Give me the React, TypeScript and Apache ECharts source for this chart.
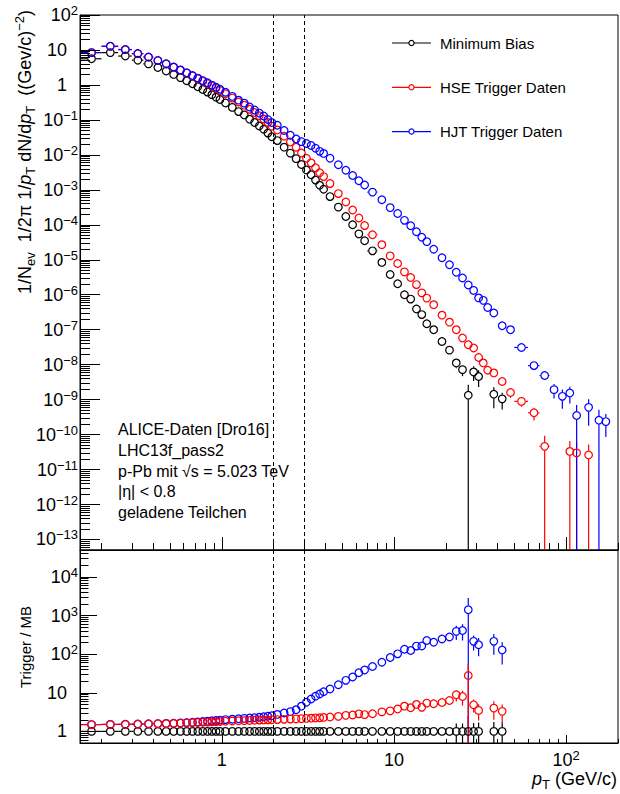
import React, { useEffect, useRef } from 'react';
import * as echarts from 'echarts';

const FONT = '"Liberation Sans", Arial, Helvetica, sans-serif';

// pT bin edges (GeV/c)
const ptEdges = [
  0.15, 0.2, 0.25, 0.3, 0.35, 0.4, 0.45, 0.5, 0.55, 0.6, 0.65, 0.7, 0.75, 0.8, 0.85, 0.9, 0.95, 1.0,
  1.1, 1.2, 1.3, 1.4, 1.5, 1.6, 1.7, 1.8, 1.9, 2.0,
  2.2, 2.4, 2.6, 2.8, 3.0, 3.2, 3.4, 3.6, 3.8, 4.0,
  4.5, 5.0, 5.5, 6.0, 6.5, 7.0,
  8, 9, 10, 11, 12, 13, 14, 15, 16,
  18, 20, 22, 24, 26, 28, 30, 32, 34, 36, 40, 45, 50,
  60, 70, 80, 90, 100, 110, 120, 130, 140, 150, 160, 180, 200,
];

// Spectra 1/Nev 1/2pi 1/pT dN/dpT per bin
const mbSpectrum = [
  5.6, 8.4, 6.7, 5.1, 4.0, 3.15, 2.5, 2.0, 1.62, 1.32, 1.08, 0.89, 0.74, 0.624, 0.527, 0.447, 0.382,
  0.305, 0.228, 0.173, 0.139, 0.105, 0.084, 0.067, 0.054, 0.042, 0.033,
  0.0256, 0.0166, 0.0112, 0.0078, 0.0053, 0.0037, 0.0027, 0.0019, 0.00136, 0.00104,
  6.4e-4, 3.2e-4, 1.73e-4, 1.0e-4, 5.5e-5, 3.5e-5,
  1.8e-5, 8.4e-6, 3.8e-6, 2.06e-6, 1.0e-6, 7.5e-7, 3.9e-7, 2.7e-7, 1.48e-7,
  1.0e-7, 4.6e-8, 2.6e-8, 1.12e-8, 7.2e-9, 1.33e-9, 6.2e-9, 4.6e-9,
  null, null, 1.42e-9, 1.05e-9,
  null, null, null, null, null, null, null, null, null, null, null, null, null, null,
];
const hseSpectrum = [
  8.4, 12.7, 10.2, 7.8, 6.2, 4.95, 3.98, 3.22, 2.64, 2.18, 1.8, 1.51, 1.27, 1.09, 0.93, 0.8, 0.69,
  0.56, 0.42, 0.325, 0.264, 0.202, 0.163, 0.131, 0.106, 0.084, 0.066,
  0.0517, 0.034, 0.0233, 0.0165, 0.0113, 0.008, 0.0059, 0.00426, 0.00307, 0.00239,
  1.51e-3, 7.8e-4, 4.5e-4, 2.65e-4, 1.57e-4, 9.5e-5,
  5.2e-5, 2.7e-5, 1.29e-5, 7.8e-6, 4.5e-6, 3.1e-6, 1.95e-6, 1.13e-6, 8.0e-7,
  5.2e-7, 2.6e-7, 1.64e-7, 1.0e-7, 5.8e-8, 3.7e-8, 3.0e-8, 1.6e-8,
  1.12e-8, 6.9e-9, 5.8e-9, 3.3e-9,
  1.6e-9, 8.9e-10, 4.2e-10, 4.6e-11, null, null, 3.3e-11, 3.0e-11, null, 2.6e-11, null, null, null, null,
];
const hjtSpectrum = [
  8.4, 12.8, 10.3, 7.9, 6.3, 5.0, 4.03, 3.26, 2.69, 2.23, 1.86, 1.57, 1.33, 1.15, 0.99, 0.86, 0.75,
  0.62, 0.47, 0.367, 0.302, 0.233, 0.191, 0.156, 0.129, 0.103, 0.084,
  0.0704, 0.0498, 0.0364, 0.0285, 0.0239, 0.0211, 0.0186, 0.0154, 0.0126, 0.011,
  0.008, 0.0052, 0.00363, 0.00257, 0.00182, 0.00137,
  8.6e-4, 5.2e-4, 3.1e-4, 2.1e-4, 1.34e-4, 9.4e-5, 6.3e-5, 4.4e-5, 3.3e-5,
  2.0e-5, 1.14e-5, 7.2e-6, 4.4e-6, 3.0e-6, 1.9e-6, 1.33e-6, 8.1e-7,
  6.9e-7, 4.3e-7, 3.0e-7, 1.3e-7,
  1.0e-7, 3.1e-8, 9.4e-9, 4.9e-9, 1.93e-9, 1.24e-9, 1.55e-9, 3.5e-10, null, 6.0e-10, null, 2.56e-10, 2.35e-10, null,
];

// Ratios Trigger / MB per bin
const mbRatio = [
  1, 1, 1, 1, 1, 1, 1, 1, 1, 1, 1, 1, 1, 1, 1, 1, 1,
  1, 1, 1, 1, 1, 1, 1, 1, 1, 1,
  1, 1, 1, 1, 1, 1, 1, 1, 1, 1,
  1, 1, 1, 1, 1, 1,
  1, 1, 1, 1, 1, 1, 1, 1, 1,
  1, 1, 1, 1, 1, 1, 1, 1,
  null, null, 1, 1,
  null, null, null, null, null, null, null, null, null, null, null, null, null, null,
];
const hseRatio = [
  1.5, 1.51, 1.52, 1.53, 1.55, 1.57, 1.59, 1.61, 1.63, 1.65, 1.67, 1.7, 1.72, 1.74, 1.76, 1.78, 1.8,
  1.83, 1.86, 1.88, 1.9, 1.92, 1.94, 1.96, 1.97, 1.99, 2.0,
  2.02, 2.05, 2.08, 2.11, 2.14, 2.17, 2.2, 2.24, 2.26, 2.3,
  2.36, 2.45, 2.6, 2.65, 2.85, 2.72,
  2.87, 3.2, 3.4, 3.8, 4.5, 4.1, 5.0, 4.2, 5.4,
  5.2, 5.6, 6.3, 8.9, 8.0, 28, 4.9, 3.5,
  null, null, 4.0, 3.3,
  null, null, null, null, null, null, null, null, null, null, null, null, null, null,
];
const hjtRatio = [
  1.5, 1.52, 1.53, 1.55, 1.57, 1.59, 1.61, 1.63, 1.66, 1.69, 1.72, 1.76, 1.8, 1.84, 1.88, 1.92, 1.96,
  2.02, 2.07, 2.12, 2.17, 2.22, 2.27, 2.33, 2.39, 2.46, 2.55,
  2.75, 3.0, 3.25, 3.65, 4.5, 5.7, 6.9, 8.1, 9.3, 10.6,
  12.5, 16.2, 21, 25.7, 33, 39,
  48, 62, 82, 102, 134, 125, 162, 163, 226,
  203, 247, 278, 390, 412, 1420, 215, 176,
  null, null, 215, 128,
  null, null, null, null, null, null, null, null, null, null, null, null, null, null,
];

// Relative statistical errors [bin index, relative error]
const mbSpecErr = [[52, 0.08], [53, 0.12], [54, 0.15], [55, 0.3], [56, 0.35], [57, 1.0], [58, 0.45], [59, 0.5], [62, 0.6], [63, 0.5]];
const hseSpecErr = [[54, 0.05], [55, 0.08], [56, 0.1], [57, 0.12], [58, 0.12], [59, 0.15], [60, 0.17], [61, 0.2], [62, 0.25], [63, 0.25], [64, 0.3], [65, 0.3], [66, 0.4], [67, 1.0], [70, 1.0], [71, 1.0], [73, 1.0]];
const hjtSpecErr = [[60, 0.06], [61, 0.08], [62, 0.1], [63, 0.1], [64, 0.12], [65, 0.15], [66, 0.22], [67, 0.25], [68, 0.44], [69, 0.56], [70, 0.5], [71, 1.0], [73, 0.7], [75, 1.0], [76, 0.64]];
const mbRatioErr = [[52, 0.1], [53, 0.15], [54, 0.22], [55, 0.6], [56, 0.6], [57, 1.5], [58, 0.65], [59, 0.7], [62, 0.75], [63, 0.7]];
const hseRatioErr = [[52, 0.08], [53, 0.12], [54, 0.15], [55, 0.33], [56, 0.42], [57, 1.0], [58, 0.37], [59, 0.45], [62, 0.5], [63, 0.5]];
const hjtRatioErr = [[52, 0.08], [53, 0.1], [54, 0.15], [55, 0.4], [56, 0.45], [57, 1.0], [58, 0.42], [59, 0.5], [62, 0.55], [63, 0.58]];

// Axis ranges and tick labels
const xRange = [0.15, 200];
const topYRange = [5e-14, 100];
const ratioYRange = [0.5, 5e4];
const xMajorTicks = [1, 10, 100];
const topYMajorTicks = [1e-13, 1e-12, 1e-11, 1e-10, 1e-9, 1e-8, 1e-7, 1e-6, 1e-5, 1e-4, 1e-3, 1e-2, 1e-1, 1, 10, 100];
const ratioYMajorTicks = [1, 10, 100, 1000, 10000];
const triggerBoundaries = [2, 3];

const seriesNames = ['Minimum Bias', 'HSE Trigger Daten', 'HJT Trigger Daten'];
const seriesColors = ['#000000', '#ff0000', '#0000ff'];
const infoLines = ['ALICE-Daten [Dro16]', 'LHC13f_pass2', 'p-Pb mit \u221As = 5.023 TeV', '|\u03B7| < 0.8', 'geladene Teilchen'];

const ptCenters = ptEdges.slice(0, -1).map((lo, i) => (lo + ptEdges[i + 1]) / 2);

function minorTicks(min: number, max: number) {
  const out: number[] = [];
  for (let e = Math.floor(Math.log10(min)) - 1; e <= Math.ceil(Math.log10(max)); e++) {
    for (let m = 2; m <= 9; m++) {
      const v = parseFloat((m * Math.pow(10, e)).toPrecision(4));
      if (v >= min * 0.99999 && v <= max * 1.00001) out.push(v);
    }
  }
  return out;
}

function markerData(values: (number | null)[]) {
  const out: number[][] = [];
  values.forEach((v, i) => {
    if (v != null) out.push([ptCenters[i], v]);
  });
  return out;
}

function errorData(values: (number | null)[], errs: number[][], yMin: number) {
  const rel = new Map(errs.map((p) => [p[0], p[1]] as [number, number]));
  const out: number[][] = [];
  values.forEach((v, i) => {
    if (v == null) return;
    const e = (rel.get(i) || 0) * v;
    const lo = Math.max(v - e, yMin);
    out.push([ptCenters[i], v, ptEdges[i], ptEdges[i + 1], lo, v + e]);
  });
  return out;
}

const R = 4.2;
function makeErrRender(color: string) {
  return (params: any, api: any) => {
    const x = api.value(0);
    const y = api.value(1);
    const p = api.coord([x, y]);
    const xl = api.coord([api.value(2), y])[0];
    const xh = api.coord([api.value(3), y])[0];
    const yl = api.coord([x, api.value(4)])[1];
    const yh = api.coord([x, api.value(5)])[1];
    const children: any[] = [];
    const ln = (x1: number, y1: number, x2: number, y2: number) =>
      children.push({ type: 'line', shape: { x1, y1, x2, y2 }, style: { stroke: color, lineWidth: 1.2 } });
    if (p[0] - R > xl + 0.5) ln(xl, p[1], p[0] - R, p[1]);
    if (xh - 0.5 > p[0] + R) ln(p[0] + R, p[1], xh, p[1]);
    if (yh < p[1] - R - 0.5) ln(p[0], yh, p[0], p[1] - R);
    if (yl > p[1] + R + 0.5) ln(p[0], p[1] + R, p[0], yl);
    return { type: 'group', children };
  };
}

const tickLabelRich = {
  b: { fontSize: 18, fontFamily: FONT, color: '#000', lineHeight: 22 },
  s: { fontSize: 13, fontFamily: FONT, color: '#000', lineHeight: 13, verticalAlign: 'top' },
  p: { fontSize: 18, fontFamily: FONT, color: '#000', lineHeight: 22, padding: [0, 11, 0, 0] },
  q: { fontSize: 18, fontFamily: FONT, color: '#000', lineHeight: 22 },
};

function fmtLog(plainKey: string) {
  return (v: number) => {
    const e = Math.round(Math.log10(v));
    if (e === 0) return `{${plainKey}|1}`;
    if (e === 1) return `{${plainKey}|10}`;
    return `{b|10}{s|${e < 0 ? '\u2212' + -e : e}}`;
  };
}

function buildOption() {
  const xMinor = minorTicks(xRange[0], xRange[1]);
  const topYMinor = minorTicks(topYRange[0], topYRange[1]);
  const ratioYMinor = minorTicks(ratioYRange[0], ratioYRange[1]);

  const xBase: any = {
    type: 'log', logBase: 10, min: xRange[0], max: xRange[1], position: 'bottom', z: 10,
    splitLine: { show: false }, axisLabel: { show: false },
    axisLine: { show: false, onZero: false },
  };
  const line = { show: true, onZero: false, lineStyle: { color: '#000', width: 1 } };
  const tick = (len: number, vals: number[]) => ({ show: true, inside: true, length: len, customValues: vals, lineStyle: { color: '#000', width: 1 } });

  const xAxis = [
    { ...xBase, gridIndex: 0, axisLine: line, axisTick: tick(13, xMajorTicks) },
    { ...xBase, gridIndex: 0, axisTick: tick(7, xMinor) },
    {
      ...xBase, gridIndex: 1, axisLine: line, axisTick: tick(8, xMajorTicks),
      axisLabel: { show: true, customValues: xMajorTicks, formatter: fmtLog('q'), rich: tickLabelRich, margin: 6, color: '#000' },
    },
    { ...xBase, gridIndex: 1, axisTick: tick(4, xMinor) },
  ];
  const yBase: any = {
    type: 'log', logBase: 10, position: 'left', z: 10,
    splitLine: { show: false }, axisLabel: { show: false }, axisLine: { show: false, onZero: false },
  };
  const yAxis = [
    {
      ...yBase, gridIndex: 0, min: topYRange[0], max: topYRange[1], axisLine: line, axisTick: tick(20, topYMajorTicks),
      axisLabel: { show: true, customValues: topYMajorTicks, formatter: fmtLog('p'), rich: tickLabelRich, margin: 2, color: '#000' },
    },
    { ...yBase, gridIndex: 0, min: topYRange[0], max: topYRange[1], axisTick: tick(10, topYMinor) },
    {
      ...yBase, gridIndex: 1, min: ratioYRange[0], max: ratioYRange[1], axisLine: line, axisTick: tick(17, ratioYMajorTicks),
      axisLabel: { show: true, customValues: ratioYMajorTicks, formatter: fmtLog('p'), rich: tickLabelRich, margin: 2, color: '#000' },
    },
    { ...yBase, gridIndex: 1, min: ratioYRange[0], max: ratioYRange[1], axisTick: tick(8.5, ratioYMinor) },
  ];

  const markLine = {
    silent: true, symbol: ['none', 'none'], label: { show: false },
    lineStyle: { color: '#000', width: 1, type: [4, 3] },
    data: triggerBoundaries.map((v) => ({ xAxis: v })),
    animation: false,
  };

  const panel = (values: any[], errs: any[], yMin: number, idx: number, xi: number, yi: number, withLines: boolean) => {
    const color = seriesColors[idx];
    return [
      {
        type: 'custom', name: seriesNames[idx] + ' err', xAxisIndex: xi, yAxisIndex: yi, z: 3,
        renderItem: makeErrRender(color), data: errorData(values, errs, yMin),
        encode: { x: 0, y: 1 }, silent: true,
      },
      {
        type: 'scatter', name: seriesNames[idx], xAxisIndex: xi, yAxisIndex: yi, z: 3,
        symbol: 'circle', symbolSize: 7.6, data: markerData(values), silent: true,
        itemStyle: { color: 'rgba(255,255,255,0)', borderColor: color, borderWidth: 1.2, opacity: 1 },
        ...(withLines ? { markLine } : {}),
      },
    ];
  };

  const series = [
    ...panel(mbSpectrum, mbSpecErr, topYRange[0], 0, 0, 0, true),
    ...panel(hseSpectrum, hseSpecErr, topYRange[0], 1, 0, 0, false),
    ...panel(hjtSpectrum, hjtSpecErr, topYRange[0], 2, 0, 0, false),
    ...panel(mbRatio, mbRatioErr, ratioYRange[0], 0, 2, 2, true),
    ...panel(hjtRatio, hjtRatioErr, ratioYRange[0], 2, 2, 2, false),
    ...panel(hseRatio, hseRatioErr, ratioYRange[0], 1, 2, 2, false),
  ];

  const graphic: any[] = [];
  // info box (white) covering dashed line
  graphic.push({ type: 'rect', shape: { x: 96, y: 410, width: 204, height: 139 }, style: { fill: '#ffffff' }, z: 5 });
  infoLines.forEach((t, i) => {
    graphic.push({
      type: 'text', x: 118, y: 429.5 + i * 20.8, z: 6,
      style: { text: t, font: `16px ${FONT}`, fill: '#000', verticalAlign: 'middle', textVerticalAlign: 'middle', align: 'left', textAlign: 'left' },
    });
  });
  // legend
  seriesNames.forEach((name, i) => {
    const y = 43 + i * 44.3;
    graphic.push({ type: 'line', shape: { x1: 392, y1: y, x2: 431, y2: y }, style: { stroke: seriesColors[i], lineWidth: 1.2 }, z: 6 });
    graphic.push({ type: 'circle', shape: { cx: 411.5, cy: y, r: 2.6 }, style: { stroke: seriesColors[i], fill: '#fff', lineWidth: 1.2 }, z: 7 });
    graphic.push({
      type: 'text', x: 440, y, z: 7,
      style: { text: name, font: `15px ${FONT}`, fill: '#000', verticalAlign: 'middle', textVerticalAlign: 'middle' },
    });
  });
  const titleRich = {
    n: { fontSize: 18, fontFamily: FONT, fill: '#000', color: '#000', lineHeight: 24 },
    i: { fontSize: 18, fontFamily: FONT, fontStyle: 'italic', fill: '#000', color: '#000', lineHeight: 24 },
    sub: { fontSize: 13, fontFamily: FONT, fill: '#000', color: '#000', lineHeight: 13, verticalAlign: 'bottom' },
    sup: { fontSize: 13, fontFamily: FONT, fill: '#000', color: '#000', lineHeight: 13, verticalAlign: 'top' },
  };
  graphic.push({
    type: 'text', x: 25, y: 10, rotation: Math.PI / 2, z: 6,
    style: {
      text: '{n|1/N}{sub|ev}{n|  1/2\u03C0 1/}{i|p}{sub|T}{n| dN/d}{i|p}{sub|T}{n|  ((Gev/c)}{sup|\u22122}{n|)}',
      rich: titleRich, align: 'right', textAlign: 'right', verticalAlign: 'middle', textVerticalAlign: 'middle', fill: '#000',
      font: `18px ${FONT}`,
    },
  });
  graphic.push({
    type: 'text', x: 25, y: 647, rotation: Math.PI / 2, z: 6,
    style: { text: 'Trigger / MB', font: `15px ${FONT}`, fill: '#000', align: 'center', textAlign: 'center', verticalAlign: 'middle', textVerticalAlign: 'middle' },
  });
  graphic.push({
    type: 'text', x: 617, y: 779, z: 6,
    style: {
      text: '{i|p}{sub|T}{n| (GeV/c)}', rich: titleRich, font: `17px ${FONT}`,
      align: 'right', textAlign: 'right', verticalAlign: 'middle', textVerticalAlign: 'middle', fill: '#000',
    },
  });

  return {
    animation: false,
    backgroundColor: '#ffffff',
    textStyle: { fontFamily: FONT },
    grid: [
      { left: 80, top: 15, width: 538, height: 535, show: true, borderColor: '#000', borderWidth: 1, backgroundColor: 'rgba(0,0,0,0)' },
      { left: 80, top: 550, width: 538, height: 193, show: true, borderColor: '#000', borderWidth: 1, backgroundColor: 'rgba(0,0,0,0)' },
    ],
    xAxis, yAxis, series, graphic,
  };
}

export default function App() {
  const ref = useRef<HTMLDivElement>(null);
  useEffect(() => {
    if (!ref.current) return;
    const chart = echarts.init(ref.current, null, { renderer: 'svg' });
    chart.setOption(buildOption() as any);
    return () => chart.dispose();
  }, []);
  return <div ref={ref} style={{ position: 'fixed', left: 0, top: 0, width: 620, height: 794, background: '#fff' }} />;
}
